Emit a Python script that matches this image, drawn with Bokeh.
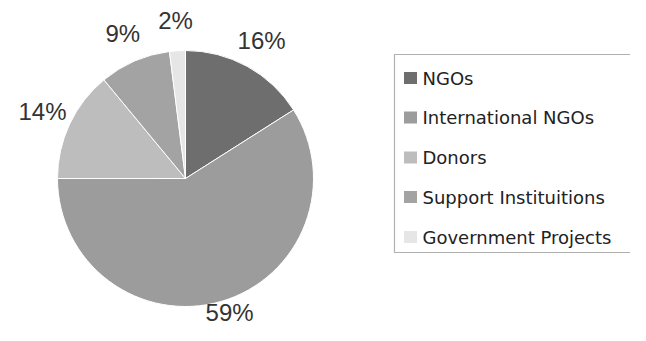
import numpy as np
from bokeh.plotting import figure
from bokeh.models import Range1d, ColumnDataSource
from bokeh.core.properties import value
from bokeh.embed import file_html
from bokeh.resources import INLINE

categories = ["NGOs", "International NGOs", "Donors", "Support Instituitions", "Government Projects"]
shares = [16, 59, 14, 9, 2]
labels = ["16%", "59%", "14%", "9%", "2%"]
colors = ["#6e6e6e", "#9c9c9c", "#bdbdbd", "#a3a3a3", "#e6e6e6"]

W, H = 630, 325
# data units = reference pixels (y measured upward from the bottom of a 341px image)
p = figure(width=W, height=H, output_backend="svg", toolbar_location=None,
           x_range=Range1d(0, W), y_range=Range1d(341 - H, 341),
           min_border=0)
p.axis.visible = False
p.grid.visible = False
p.outline_line_color = None
p.background_fill_color = "white"

cx, cy, R = 185, 341 - 178, 128
frac = np.array(shares, dtype=float) / sum(shares)
cum = np.concatenate([[0], np.cumsum(frac)])
start = np.pi / 2 - cum[:-1] * 2 * np.pi
end = np.pi / 2 - cum[1:] * 2 * np.pi
mid = (start + end) / 2

src = ColumnDataSource(dict(start=start, end=end, color=colors, cat=categories))
p.wedge(x=cx, y=cy, radius=R, start_angle="start", end_angle="end", direction="clock",
        fill_color="color", line_color="white", line_width=1, source=src)

lr = 158
lx = cx + lr * np.cos(mid)
ly = np.clip(cy + lr * np.sin(mid), 341 - H + 13, 341 - 20)
lsrc = ColumnDataSource(dict(x=lx, y=ly, t=labels))
p.text(x="x", y="y", text="t", source=lsrc, text_align="center", text_baseline="middle",
       text_font=value("Liberation Sans"), text_font_size="24px", text_color="#333333")

# legend
box_l, box_t, box_b = 394, 341 - 54, 341 - 252
p.quad(left=box_l, right=700, top=box_t, bottom=box_b, fill_color="white",
       line_color="#b0b0b0", line_width=1.2)
rows = 341 - np.array([77.5, 117, 157, 196.5, 236.5])
leg = ColumnDataSource(dict(y=rows, color=colors, cat=categories))
p.rect(x=410, y="y", width=13, height=12, fill_color="color", line_color=None, source=leg)
p.text(x=422, y="y", text="cat", source=leg, text_align="left", text_baseline="middle",
       text_font=value("DejaVu Sans"), text_font_size="18px", text_color="#222222")

open("out.html", "w").write(file_html(p, INLINE))
